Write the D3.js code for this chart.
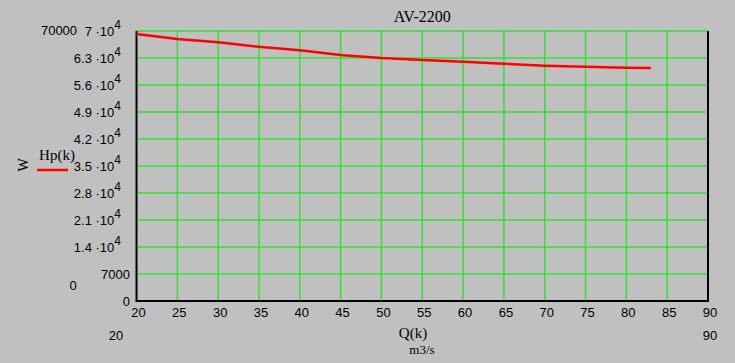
<!DOCTYPE html>
<html>
<head>
<meta charset="utf-8">
<script src="https://d3js.org/d3.v7.min.js"></script>
<style>
  body { margin: 0; background: #c0c0c0; }
  svg { display: block; }
</style>
</head>
<body>
<div id="chart"></div>
<script>

// data
var flow = [20, 25, 30, 35, 40, 45, 50, 55, 60, 65, 70, 75, 80, 83];
var power = [69200, 67900, 67100, 65900, 65000, 63800, 63000, 62500, 62000, 61500, 61000, 60700, 60450, 60400];
var xTicks = [20, 25, 30, 35, 40, 45, 50, 55, 60, 65, 70, 75, 80, 85, 90];
var yTicks = [0, 7000, 14000, 21000, 28000, 35000, 42000, 49000, 56000, 63000, 70000];

var W = 735, H = 363;
var margin = {top: 31, right: 27, bottom: 62, left: 136.5};
var width = W - margin.left - margin.right,
    height = H - margin.top - margin.bottom;

var svg = d3.select("#chart").append("svg")
    .attr("width", W)
    .attr("height", H)
    .style("background", "#c0c0c0");

var g = svg.append("g")
    .attr("transform", "translate(" + margin.left + "," + margin.top + ")");

var x = d3.scaleLinear().domain([20, 90]).range([0, width]);
var y = d3.scaleLinear().domain([0, 70000]).range([height, 0]);

var grid = "#33e033";

// gridlines
g.selectAll(".vgrid").data(xTicks.slice(1, -1)).enter().append("line")
    .attr("x1", function(d) { return x(d); })
    .attr("x2", function(d) { return x(d); })
    .attr("y1", 0).attr("y2", height)
    .attr("stroke", grid).attr("stroke-width", 1.5);
g.selectAll(".hgrid").data(yTicks.slice(1)).enter().append("line")
    .attr("x1", 0).attr("x2", width)
    .attr("y1", function(d) { return y(d); })
    .attr("y2", function(d) { return y(d); })
    .attr("stroke", grid).attr("stroke-width", 1.5);

// frame: left, bottom, right black
g.append("path")
    .attr("d", "M0,0V" + height + "H" + width + "V0")
    .attr("fill", "none")
    .attr("stroke", "#000")
    .attr("stroke-width", 2);

// curve
var line = d3.line()
    .x(function(d, i) { return x(flow[i]); })
    .y(function(d) { return y(d); });
g.append("path")
    .datum(power)
    .attr("d", line)
    .attr("fill", "none")
    .attr("stroke", "#ff0000")
    .attr("stroke-width", 2.5);

var sans = "'Liberation Sans', Arial, sans-serif";
var serif = "'Liberation Serif', 'Times New Roman', serif";

// y tick labels
yTicks.forEach(function(v) {
  var t = svg.append("text")
      .attr("y", margin.top + y(v) + 5)
      .attr("font-family", sans)
      .attr("font-size", 13)
      .attr("text-anchor", "end")
      .attr("fill", "#000");
  if (v >= 10000) {
    t.attr("x", 121);
    t.append("tspan").text(d3.format("")(v / 10000) + " \u00b710");
    t.append("tspan").attr("dy", -7).attr("font-size", 12).text("4");
  } else {
    t.attr("x", 130).text(v);
  }
});

// x tick labels
xTicks.forEach(function(v) {
  svg.append("text")
      .attr("x", margin.left + x(v) + 2)
      .attr("y", margin.top + height + 16)
      .attr("font-family", sans)
      .attr("font-size", 13)
      .attr("text-anchor", "middle")
      .text(v);
});

// axis limit labels
svg.append("text").attr("x", 59).attr("y", 35).attr("font-family", sans)
    .attr("font-size", 13).attr("text-anchor", "middle").text("70000");
svg.append("text").attr("x", 73).attr("y", 290).attr("font-family", sans)
    .attr("font-size", 13).attr("text-anchor", "middle").text("0");
svg.append("text").attr("x", 116).attr("y", 340).attr("font-family", sans)
    .attr("font-size", 13).attr("text-anchor", "middle").text("20");
svg.append("text").attr("x", 710).attr("y", 340).attr("font-family", sans)
    .attr("font-size", 13).attr("text-anchor", "middle").text("90");

// title
svg.append("text")
    .attr("x", margin.left + width / 2)
    .attr("y", 22)
    .attr("font-family", serif)
    .attr("font-size", 16)
    .attr("text-anchor", "middle")
    .text("AV-2200");

// x axis label
svg.append("text")
    .attr("x", 413).attr("y", 338)
    .attr("font-family", serif).attr("font-size", 15)
    .attr("text-anchor", "middle")
    .text("Q(k)");
svg.append("text")
    .attr("x", 422).attr("y", 354)
    .attr("font-family", serif).attr("font-size", 13)
    .attr("text-anchor", "middle")
    .text("m3/s");

// y axis label
svg.append("text")
    .attr("transform", "translate(28,165) rotate(-90)")
    .attr("font-family", serif).attr("font-size", 14)
    .attr("text-anchor", "middle")
    .text("W");

// legend
svg.append("text")
    .attr("x", 57).attr("y", 160)
    .attr("font-family", serif).attr("font-size", 15)
    .attr("text-anchor", "middle")
    .text("Hp(k)");
svg.append("line")
    .attr("x1", 37).attr("x2", 68)
    .attr("y1", 170).attr("y2", 170)
    .attr("stroke", "#ff0000").attr("stroke-width", 2.5);
</script>
</body>
</html>
